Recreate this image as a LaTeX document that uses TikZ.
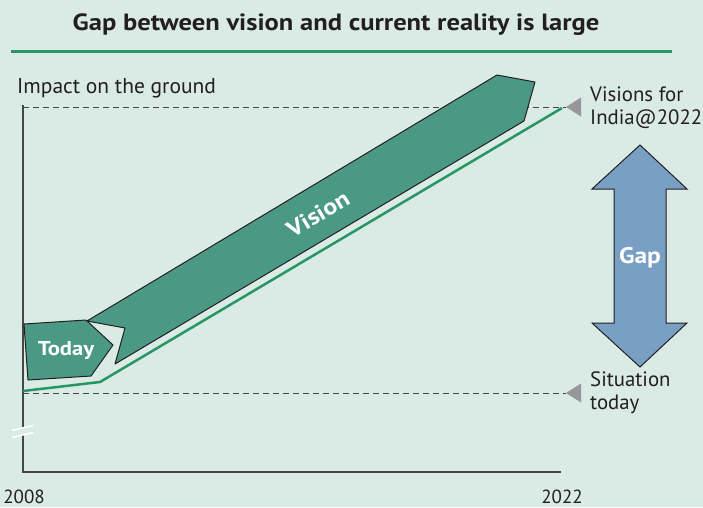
\documentclass[tikz,border=0pt]{standalone}
\usepackage{fontspec}
\setmainfont{PT Sans}
\newfontfamily\widebold[FakeStretch=1.13]{PT Sans Bold}
\begin{document}
\definecolor{bgmint}{RGB}{218,234,228}
\definecolor{rulegreen}{RGB}{40,150,100}
\definecolor{shapeteal}{RGB}{73,153,133}
\definecolor{gapblue}{RGB}{122,159,196}
\definecolor{inkdark}{RGB}{35,31,32}
\definecolor{axisgray}{RGB}{70,70,70}
\definecolor{markgray}{RGB}{150,150,155}
\begin{tikzpicture}[x=1pt,y=-1pt,
  label/.style={inner sep=0pt,anchor=west,text=inkdark,font=\fontsize{20.8}{23}\selectfont,align=left},
  yearlabel/.style={inner sep=0pt,text=inkdark,font=\fontsize{19}{22}\selectfont},
  shapebox/.style={fill=shapeteal,draw=inkdark,line width=1pt,line join=round},
  whitebold/.style={text=white,inner sep=0pt},
  guide/.style={draw=axisgray,line width=1pt,dash pattern=on 6pt off 4pt},
  marker/.style={fill=markgray,draw=none}]
\useasboundingbox[fill=bgmint] (0,0) rectangle (703,507);
% title and rule
\node[inner sep=0pt,text=inkdark,font=\widebold\fontsize{23.5}{26}\selectfont] (title) at (336,25) {Gap between vision and current reality is large};
\draw[rulegreen,line width=3pt] (11,51.5) -- (672,51.5);
% axes
\coordinate (origin) at (23,472);
\coordinate (ytop) at (23,105);
\coordinate (xend) at (561,472);
\draw[axisgray,line width=1.5pt] (ytop) -- (origin) -- (xend);
% axis break
\fill[bgmint] (12,430.5) -- (33,425.5) -- (33,432.5) -- (12,437.5) -- cycle;
\draw[white,line width=1.6pt] (12,430.5) -- (33,425.5) (12,437.5) -- (33,432.5);
\node[label,font=\fontsize{21.5}{23}\selectfont] (ylabel) at (17,88) {Impact on the ground};
\node[yearlabel] (year0) at (24,497) {2008};
\node[yearlabel] (year1) at (562,497) {2022};
% reference levels
\coordinate (hiL) at (23,107);
\coordinate (loL) at (23,393);
\coordinate (hiM) at (566,107);
\coordinate (loM) at (566,393);
\draw[guide] (hiL) -- (hiM);
\draw[guide] (loL) -- (loM);
\fill[marker] (hiM) -- ++(15,-9.5) -- ++(0,19) -- cycle;
\fill[marker] (loM) -- ++(15,-9.5) -- ++(0,19) -- cycle;
\node[label] (visions) at (590,108) {Visions for\\India@2022};
\node[label] (situation) at (590,393) {Situation\\today};
% current reality line
\coordinate (r0) at (23,391);
\coordinate (r1) at (100,382);
\coordinate (r2) at (562,108);
\draw[rulegreen,line width=2.5pt,line join=round] (r0) -- (r1) -- (r2);
% vision arrow
\draw[shapebox] (87,321) -- (497,75) -- (535,82) -- (524,121) -- (115,364) -- (125,328) -- cycle;
\node[whitebold,rotate=30.8,font=\widebold\fontsize{23}{25}\selectfont] (vision) at (318,214) {Vision};
% today shape
\draw[shapebox] (24,324) -- (86,320) -- (113,345) -- (91,376) -- (28,380) -- cycle;
\node[whitebold,font=\widebold\fontsize{20}{22}\selectfont] (today) at (66,351) {Today};
% gap double arrow
\draw[fill=gapblue,draw=inkdark,line width=1pt,line join=miter]
  (640,145) -- (687,189) -- (666,189) -- (666,323) -- (687,323) -- (640,367)
  -- (592,323) -- (614,323) -- (614,189) -- (592,189) -- cycle;
\node[whitebold,font=\widebold\fontsize{22.5}{24}\selectfont] (gap) at (640,258) {Gap};
\end{tikzpicture}
\end{document}
